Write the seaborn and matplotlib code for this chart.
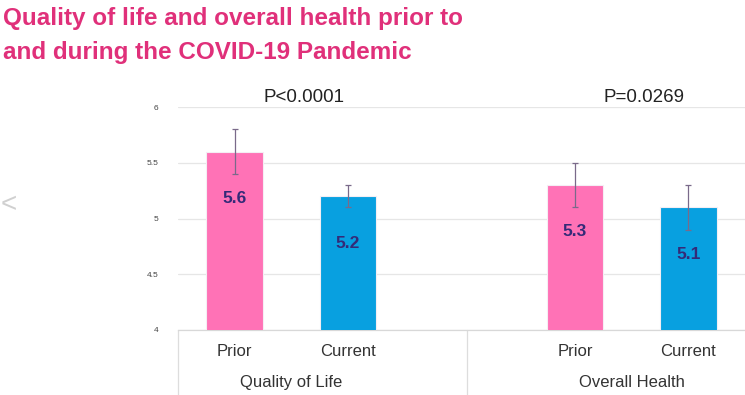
import matplotlib
matplotlib.use("Agg")
import matplotlib.pyplot as plt
import seaborn as sns
import pandas as pd
import numpy as np

groups = ["Quality of Life", "Overall Health"]
periods = ["Prior", "Current"]
means = [5.6, 5.2, 5.3, 5.1]
err_low = [5.4, 5.1, 5.1, 4.9]
err_high = [5.8, 5.3, 5.5, 5.3]
p_values = ["P<0.0001", "P=0.0269"]
yticks = [4, 4.5, 5, 5.5, 6]
ytick_labels = ["4", "4.5", "5", "5.5", "6"]

colors = {"Prior": "#FF72B6", "Current": "#08A0E0"}

rows = []
for gi, g in enumerate(groups):
    for pi, p in enumerate(periods):
        k = gi * 2 + pi
        rows.append({"group": g, "period": p, "pos": gi * 3 + pi, "mean": means[k],
                     "lo": err_low[k], "hi": err_high[k]})
df = pd.DataFrame(rows)

sns.set_theme(style="white")
plt.rcParams["font.family"] = ["Liberation Sans", "DejaVu Sans"]

fig = plt.figure(figsize=(7.45, 3.95), dpi=100)
ax = fig.add_axes([178 / 745, 1 - 330 / 395, 1 - 178 / 745, (330 - 107) / 395])

sns.barplot(data=df, x="pos", y="mean", hue="period", palette=colors, dodge=False,
            native_scale=True, width=0.5, saturation=1, edgecolor="#f4eef4", linewidth=0.8,
            legend=False, ax=ax, zorder=3)

ax.errorbar(df["pos"], df["mean"], yerr=[df["mean"] - df["lo"], df["hi"] - df["mean"]],
            fmt="none", ecolor="#7a6a8a", elinewidth=0.9, capsize=2.5, capthick=0.9, zorder=4)

for _, r in df.iterrows():
    ax.text(r["pos"], r["mean"] - 0.42, f"{r['mean']:.1f}", ha="center", va="center",
            fontsize=12.5, fontweight="bold", color="#342a78", zorder=5)

ax.set_ylim(4, 6)
ax.set_xlim(-0.5, 4.5)
ax.set_yticks(yticks)
ax.set_yticklabels(ytick_labels, fontsize=6, color="#444444")
ax.tick_params(axis="y", length=0, pad=14)
ax.set_xticks([])
ax.set_xlabel("")
ax.set_ylabel("")
for y in yticks:
    ax.axhline(y, color="#e6e6e6", linewidth=0.9, zorder=0)
for s in ["top", "right", "left"]:
    ax.spines[s].set_visible(False)
ax.spines["bottom"].set_color("#d8d8d8")
ax.spines["bottom"].set_linewidth(0.9)

# p-values above the groups
for gi, pv in enumerate(p_values):
    ax.text(gi * 3 + 0.61, 6.01, pv, ha="center", va="bottom", fontsize=13.5, color="#222222")

# category labels below axis
trans = ax.get_xaxis_transform()
for _, r in df.iterrows():
    ax.text(r["pos"], -0.095, r["period"], transform=trans, ha="center", va="center",
            fontsize=12, color="#333333", clip_on=False)
for gi, g in enumerate(groups):
    ax.text(gi * 3 + 0.5, -0.235, g, transform=trans, ha="center", va="center",
            fontsize=12, color="#333333", clip_on=False)
for xs in [-0.5, 2.05]:
    ax.plot([xs, xs], [0, -0.3], transform=trans, color="#dddddd", linewidth=0.9, clip_on=False)

title_family = ["Liberation Sans", "DejaVu Sans"]
fig.text(3 / 745, 1 - 19 / 395, "Quality of life and overall health prior to", family=title_family,
         fontsize=17.5, fontweight="bold", color="#E0307A", va="center", ha="left")
fig.text(3 / 745, 1 - 53 / 395, "and during the COVID-19 Pandemic", family=title_family,
         fontsize=17.5, fontweight="bold", color="#E0307A", va="center", ha="left")
fig.text(1 / 745, 1 - 205 / 395, "<", fontsize=20, color="#d0d0d0", va="center", ha="left")

fig.savefig("out.png", dpi=100)
